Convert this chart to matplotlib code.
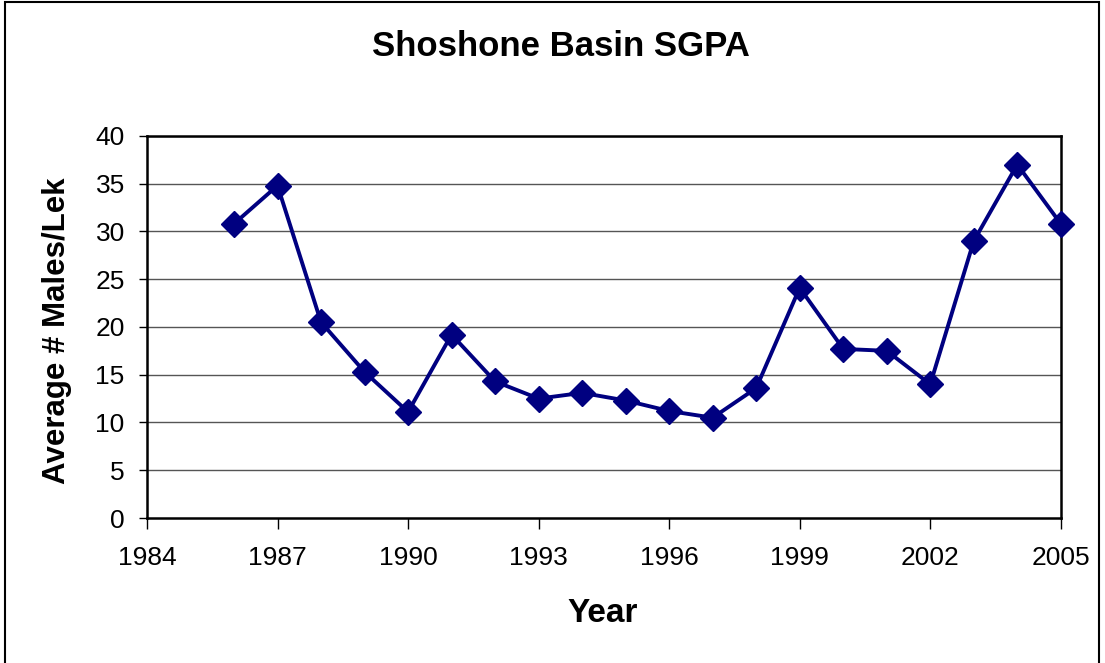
import matplotlib
matplotlib.use("Agg")
import matplotlib.pyplot as plt
from matplotlib.patches import Rectangle

years = [1986, 1987, 1988, 1989, 1990, 1991, 1992, 1993, 1994, 1995,
         1996, 1997, 1998, 1999, 2000, 2001, 2002, 2003, 2004, 2005]
males_per_lek = [30.8, 34.8, 20.5, 15.3, 11.1, 19.2, 14.3, 12.5, 13.1, 12.3,
                 11.2, 10.5, 13.6, 24.1, 17.7, 17.5, 14.0, 29.0, 37.0, 30.8]
xticks = [1984, 1987, 1990, 1993, 1996, 1999, 2002, 2005]
yticks = [0, 5, 10, 15, 20, 25, 30, 35, 40]

plt.rcParams['font.family'] = ['Liberation Sans', 'DejaVu Sans']

fig = plt.figure(figsize=(11.05, 6.63), dpi=100)
ax = fig.add_axes([0.133, 0.2187, 0.827, 0.5763])

for y in yticks[1:]:
    ax.axhline(y, color='#555555', linewidth=1.0, zorder=1)

ax.plot(years, males_per_lek, color='#000080', linewidth=2.8,
        marker='D', markersize=13, zorder=3, clip_on=False)

ax.set_xlim(1984, 2005)
ax.set_ylim(0, 40)
ax.set_xticks(xticks)
ax.set_yticks(yticks)
ax.tick_params(direction='out', length=6, width=1, labelsize=19)
ax.tick_params(axis='x', length=8, pad=12)
ax.tick_params(axis='y', pad=10)
for s in ax.spines.values():
    s.set_linewidth(1.8)
    s.set_color('black')

fig.text(561 / 1105, 1 - 47 / 663, 'Shoshone Basin SGPA', fontsize=25,
         fontweight='bold', ha='center', va='center')
fig.text(603 / 1105, 1 - 613 / 663, 'Year', fontsize=24,
         fontweight='bold', ha='center', va='center')
fig.text(57 / 1105, 1 - 331 / 663, 'Average # Males/Lek', fontsize=22.5,
         fontweight='bold', ha='center', va='center', rotation=90)

fig.add_artist(Rectangle((5 / 1105, -0.05), 1094 / 1105, 1.05 - 2 / 663,
                         transform=fig.transFigure, fill=False,
                         edgecolor='black', linewidth=1.5))

fig.savefig('out.png', dpi=100)
